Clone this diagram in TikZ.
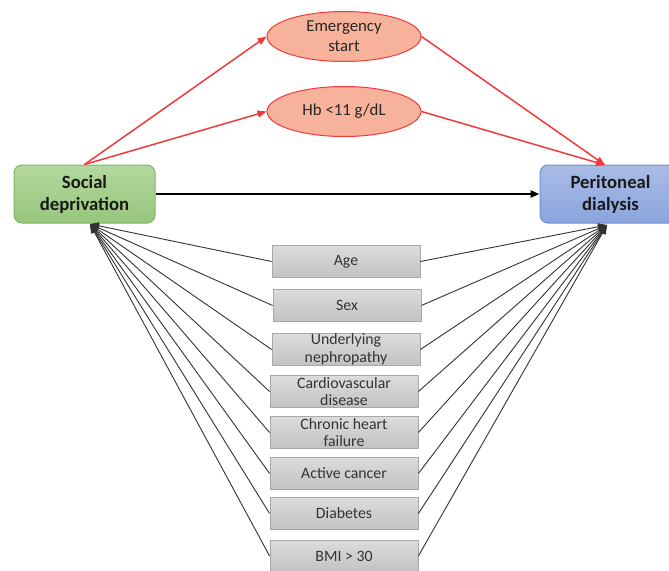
\documentclass[tikz,border=0pt]{standalone}
\usepackage{fontspec}
\setmainfont{Carlito}
\usepackage{xcolor}
\usepackage{tikz}
\usetikzlibrary{positioning,shapes.geometric,arrows.meta}

\definecolor{sdtop}{HTML}{B4D89E}
\definecolor{sdbot}{HTML}{97C67C}
\definecolor{sdedge}{HTML}{7DB561}
\definecolor{pdtopc}{HTML}{A9BCE6}
\definecolor{pdbot}{HTML}{8AA4DC}
\definecolor{pdedge}{HTML}{6F8FD2}
\definecolor{medfill}{HTML}{F6B29A}
\definecolor{medred}{HTML}{F03A3A}
\definecolor{boxtop}{HTML}{DCDCDC}
\definecolor{boxbot}{HTML}{C2C2C2}
\definecolor{boxedge}{HTML}{A8A8A8}

\tikzset{
  mainbox/.style={rectangle, rounded corners=8pt, line width=1pt,
    minimum width=141pt, minimum height=58pt, inner sep=0pt, align=center,
    text=black!90, font=\fontsize{18.7}{22}\selectfont\bfseries},
  medbox/.style={ellipse, draw=medred, line width=1pt, fill=medfill,
    minimum width=154pt, minimum height=50pt, inner sep=0pt, align=center,
    text=black!85, font=\fontsize{16.8}{20}\selectfont},
  factorbox/.style={rectangle, draw=boxedge, line width=0.8pt,
    top color=boxtop, bottom color=boxbot,
    minimum width=148pt, minimum height=32pt, inner sep=0pt, align=center,
    text=black!80, font=\fontsize{15.8}{17.5}\selectfont},
  redarrow/.style={->, medred, line width=1.5pt},
  factorline/.style={->, black!80, line width=0.9pt,
    >={Triangle[length=9pt,width=7pt]}},
}

\begin{document}
\begin{tikzpicture}[x=1pt, y=-1pt, >={Triangle[length=9pt,width=7pt]}]
  \useasboundingbox (0,0) rectangle (669,570);
  \clip (0,0) rectangle (669,570);

  % exposure and outcome
  \node[mainbox, draw=sdedge, top color=sdtop, bottom color=sdbot] (social) at (84.5,194) {Social\\deprivation};
  \node[mainbox, draw=pdedge, top color=pdtopc, bottom color=pdbot] (perit) at (610.5,194) {Peritoneal\\dialysis};

  % mediators
  \node[medbox] (emerg) at (344,36.5) {Emergency\\start};
  \node[medbox] (hb) at (344,111.5) {Hb <11 g/dL};

  \coordinate (pdtop) at (605,165);
  \coordinate (sdin) at (90,224);
  \coordinate (pdin) at (607,225);

  \draw[redarrow] (social.north) -- (emerg.west);
  \draw[redarrow] (social.north) -- (hb.west);
  \draw[redarrow] (emerg.east) -- (pdtop);
  \draw[redarrow] (hb.east) -- (pdtop);

  % direct effect
  \draw[->, black, line width=2.2pt] (social.east) -- (perit.west);

  % adjustment factors
  \foreach \nm/\xx/\yy/\txt in {age/346/261.5/Age, sex/347/305.5/Sex,
      neph/346/349.5/{Underlying\\nephropathy}, cvd/344/391.5/{Cardiovascular\\disease},
      chf/344/432.5/{Chronic heart\\failure}, canc/344/473.5/Active cancer,
      diab/344/513.5/Diabetes, bmi/344/556/BMI > 30} {
    \node[factorbox] (\nm) at (\xx,\yy) {\txt};
    \draw[factorline] (\nm.west) -- (sdin);
    \draw[factorline] (\nm.east) -- (pdin);
  }
\end{tikzpicture}
\end{document}
